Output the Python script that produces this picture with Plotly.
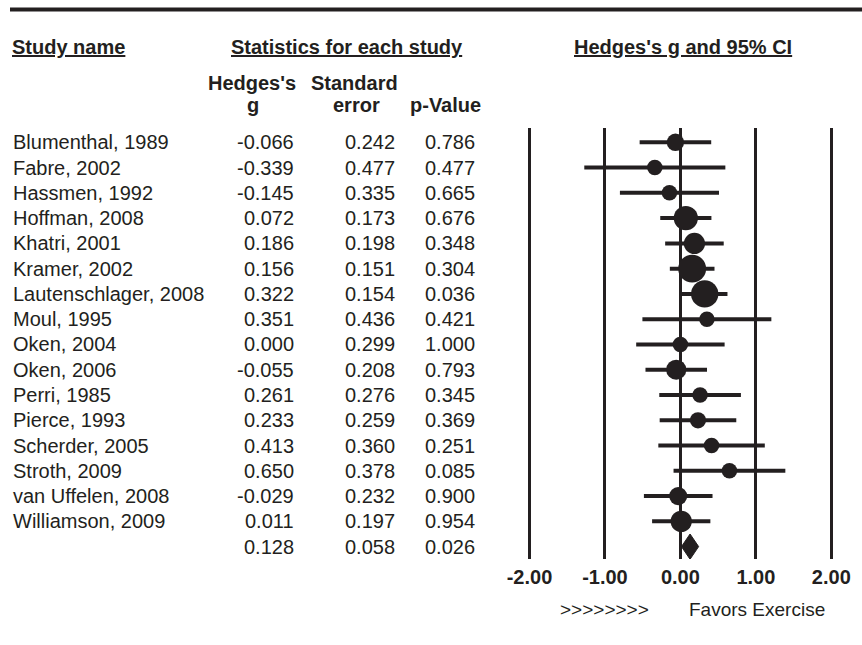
import plotly.graph_objects as go

# ---------------- data ----------------
studies = ["Blumenthal, 1989", "Fabre, 2002", "Hassmen, 1992", "Hoffman, 2008",
           "Khatri, 2001", "Kramer, 2002", "Lautenschlager, 2008", "Moul, 1995",
           "Oken, 2004", "Oken, 2006", "Perri, 1985", "Pierce, 1993",
           "Scherder, 2005", "Stroth, 2009", "van Uffelen, 2008", "Williamson, 2009"]
hedges_g = [-0.066, -0.339, -0.145, 0.072, 0.186, 0.156, 0.322, 0.351,
            0.000, -0.055, 0.261, 0.233, 0.413, 0.650, -0.029, 0.011]
std_err = [0.242, 0.477, 0.335, 0.173, 0.198, 0.151, 0.154, 0.436,
           0.299, 0.208, 0.276, 0.259, 0.360, 0.378, 0.232, 0.197]
p_value = [0.786, 0.477, 0.665, 0.676, 0.348, 0.304, 0.036, 0.421,
           1.000, 0.793, 0.345, 0.369, 0.251, 0.085, 0.900, 0.954]
summary_g = 0.128
summary_se = 0.058
summary_p = 0.026
x_ticks = [-2, -1, 0, 1, 2]
x_tick_labels = [f"{v:.2f}" for v in x_ticks]

# ---------------- layout constants ----------------
W, H = 862, 645
DARK = "#231f20"
FONT = "Liberation Sans, Arial, Helvetica, sans-serif"
row_top_px = 142.3
row_step = 25.27
plot_top_px, plot_bot_px = 128, 559
zero_px, unit_px = 680.4, 75.45
x_pad = 2.05  # half-range (slightly beyond ±2 so edge grid lines are drawn)

def py(px):
    return 1 - px / H

def pxx(px):
    return px / W

rows = list(range(len(studies)))
sum_row = len(studies)

y_top = (plot_top_px - row_top_px) / row_step
y_bot = (plot_bot_px - row_top_px) / row_step
x_dom = [(zero_px - x_pad * unit_px) / W, (zero_px + x_pad * unit_px) / W]

fig = go.Figure()

# CI lines + weighted markers
ci = [1.96 * s for s in std_err]
sizes = [max(15.5, 4.2 / s) for s in std_err]
fig.add_trace(go.Scatter(
    x=hedges_g, y=rows, mode="markers",
    marker=dict(size=sizes, color=DARK, opacity=1, line=dict(width=0)),
    error_x=dict(type="data", array=ci, symmetric=True, thickness=4,
                 width=0, color=DARK),
    cliponaxis=False, hoverinfo="skip", showlegend=False))

# summary diamond
lo = summary_g - 1.96 * summary_se
hi = summary_g + 1.96 * summary_se
fig.add_trace(go.Scatter(
    x=[lo, summary_g, hi, summary_g, lo],
    y=[sum_row, sum_row - 0.5, sum_row, sum_row + 0.5, sum_row],
    mode="lines", fill="toself", fillcolor=DARK,
    line=dict(color=DARK, width=1), cliponaxis=False,
    hoverinfo="skip", showlegend=False))

ann = []
def add(text, x, y, xanchor="left", yref="paper", bold=False, size=20):
    ann.append(dict(text=f"<b>{text}</b>" if bold else text,
                    x=x, y=y, xref="paper", yref=yref, xanchor=xanchor,
                    yanchor="middle", showarrow=False,
                    font=dict(family=FONT, size=size, color=DARK)))

# table rows
for i, name in enumerate(studies):
    add(name, pxx(11), i, "left", "y")
    add(f"{hedges_g[i]:.3f}", pxx(296), i, "right", "y")
    add(f"{std_err[i]:.3f}", pxx(397), i, "right", "y")
    add(f"{p_value[i]:.3f}", pxx(477), i, "right", "y")
add(f"{summary_g:.3f}", pxx(296), sum_row, "right", "y")
add(f"{summary_se:.3f}", pxx(397), sum_row, "right", "y")
add(f"{summary_p:.3f}", pxx(477), sum_row, "right", "y")

# headers
add("<u>Study name</u>", pxx(10), py(47), "left", bold=True)
add("<u>Statistics for each study</u>", pxx(346.5), py(47), "center", bold=True)
add("<u>Hedges's g and 95% CI</u>", pxx(682.5), py(47), "center", bold=True)
add("Hedges's", pxx(252), py(83.5), "center", bold=True)
add("g", pxx(253), py(105.5), "center", bold=True)
add("Standard", pxx(354), py(83.5), "center", bold=True)
add("error", pxx(356), py(105.5), "center", bold=True)
add("p-Value", pxx(445), py(105.5), "center", bold=True)

# footer
add("&gt;&gt;&gt;&gt;&gt;&gt;&gt;&gt;", pxx(604), py(609.5), "center", size=19)
add("Favors Exercise", pxx(686.5), py(609.5), "left", size=19)

fig.update_layout(
    width=W, height=H,
    margin=dict(l=0, r=0, t=0, b=0, pad=0, autoexpand=False),
    paper_bgcolor="white", plot_bgcolor="white",
    annotations=ann,
    shapes=[dict(type="line", xref="paper", yref="paper",
                 x0=pxx(10), x1=1, y0=py(9.5), y1=py(9.5),
                 line=dict(color=DARK, width=4))],
    xaxis=dict(domain=x_dom, range=[-x_pad, x_pad],
               tickvals=x_ticks, ticktext=x_tick_labels,
               showgrid=True, gridcolor=DARK, gridwidth=3,
               zeroline=False, showline=False, ticks="",
               tickfont=dict(family=FONT, size=20, color=DARK, weight="bold"),
               ticklabelstandoff=4, automargin=False, fixedrange=True),
    yaxis=dict(domain=[py(plot_bot_px), py(plot_top_px)],
               range=[y_bot, y_top], visible=False, automargin=False,
               fixedrange=True),
)

fig.write_html("out.html")
